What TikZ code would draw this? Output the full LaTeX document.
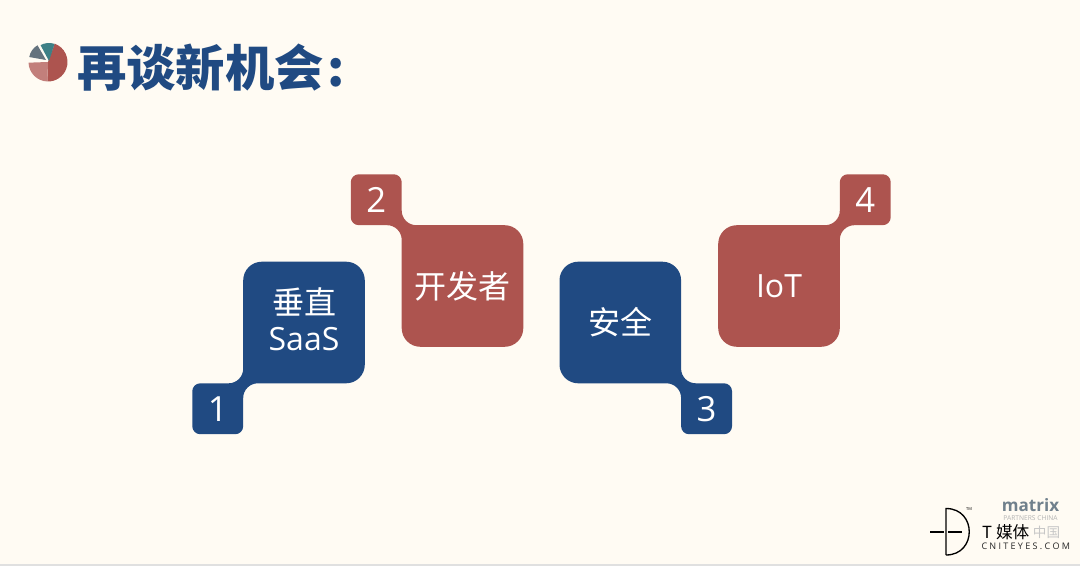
\documentclass[tikz,border=0pt]{standalone}
\usepackage{fontspec}
\setmainfont{Open Sans}
\newfontfamily\cjk{Noto Sans CJK SC}
\usetikzlibrary{positioning, backgrounds}
\definecolor{paper}{RGB}{255,251,243}
\definecolor{navyblue}{RGB}{32,74,130}
\definecolor{softred}{RGB}{173,84,79}
\definecolor{logogray}{RGB}{112,128,140}
\begin{document}
\begin{tikzpicture}[
        x=0.75pt, y=-0.75pt,
        mainbox/.style={rectangle, inner sep=0pt, outer sep=0pt, minimum size=91.2pt, align=center,
                        text=white, font=\fontsize{24}{27}\selectfont\cjk},
        numbox/.style={rectangle, inner sep=0pt, outer sep=0pt, minimum size=38.2pt, text=white,
                       font=\fontsize{26}{27}\selectfont},
        bluefill/.style={fill=navyblue},
        redfill/.style={fill=softred},
        logotext/.style={inner sep=0pt, outer sep=0pt}
    ]
        \useasboundingbox (0,0) rectangle (1080,566);
        \node [mainbox] (saas) at (304,322.5) {};
        \node [mainbox, minimum size=0pt] (saastext) at ([yshift=2.5pt]saas.center) {垂直\\{\fontspec{Open Sans}SaaS}};
        \node [mainbox] (dev) at (462.5,286) {开发者};
        \node [mainbox] (safe) at (620.3,322.5) {安全};
        \node [mainbox, font=\fontsize{24}{27}\selectfont] (iot) at (779,286) {IoT};
        \node [numbox, below left=0pt and 0pt of saas.south west] (num1) {1};
        \node [numbox, above left=0pt and 0pt of dev.north west] (num2) {2};
        \node [numbox, below right=0pt and 0pt of safe.south east] (num3) {3};
        \node [numbox, above right=0pt and 0pt of iot.north east] (num4) {4};
        % the slide and the four shapes
        \begin{scope}[on background layer]
            \fill [paper] (0,0) rectangle (1080,566);
            \fill [black!12] (0,564) rectangle (1080,566);
            \fill [bluefill, rounded corners=14pt] (saas.north) -- (saas.north east) -- (saas.south east)
                [rounded corners=11pt] -- (saas.south west)
                [rounded corners=6pt] -- (num1.south east) -- (num1.south west) -- (num1.north west)
                [rounded corners=11pt] -- (saas.south west)
                [rounded corners=14pt] -- (saas.north west) -- cycle;
            \fill [redfill, rounded corners=14pt] (dev.east) -- (dev.south east) -- (dev.south west)
                [rounded corners=11pt] -- (dev.north west)
                [rounded corners=6pt] -- (num2.south west) -- (num2.north west) -- (num2.north east)
                [rounded corners=11pt] -- (dev.north west)
                [rounded corners=14pt] -- (dev.north east) -- cycle;
            \fill [bluefill, rounded corners=14pt] (safe.west) -- (safe.north west) -- (safe.north east)
                [rounded corners=11pt] -- (safe.south east)
                [rounded corners=6pt] -- (num3.north east) -- (num3.south east) -- (num3.south west)
                [rounded corners=11pt] -- (safe.south east)
                [rounded corners=14pt] -- (safe.south west) -- cycle;
            \fill [redfill, rounded corners=14pt] (iot.south) -- (iot.south west) -- (iot.north west)
                [rounded corners=11pt] -- (iot.north east)
                [rounded corners=6pt] -- (num4.north west) -- (num4.north east) -- (num4.south east)
                [rounded corners=11pt] -- (iot.north east)
                [rounded corners=14pt] -- (iot.south east) -- cycle;
        \end{scope}
        % title and pie
        \node [logotext, anchor=west, text=navyblue, font=\fontsize{37}{38}\selectfont\cjk\bfseries] (title) at (77,68) {再谈新机会\hspace{3pt}:};
        \fill [softred] (48,62) -- ++(-70:19.5) arc (-70:92:19.5) -- cycle;
        \fill [softred!75!white] (48,62) -- ++(92:19.5) arc (92:178:19.5) -- cycle;
        \fill [logogray!90!black] (46,60) -- ++(190:17) arc (190:240:17) -- cycle;
        \fill [logogray!55!teal] (49,61) -- ++(-118:18) arc (-118:-72:18) -- cycle;
        % logos
        \node [logotext, text=logogray, font=\fontsize{12.8}{13}\selectfont\bfseries] (matrix) at (1030.5,505) {matrix};
        \node [logotext, text=black!30, font=\fontsize{5}{5}\selectfont] (partners) at (1030.5,518) {PARTNERS CHINA};
        \node [logotext, text=black!22, font=\fontsize{10.2}{11}\selectfont\cjk] (china) at (1046.5,532.5) {中国};
        \node [logotext, anchor=west, font=\fontsize{12.5}{13}\selectfont\cjk] (tmedia) at (982,532) {T\hspace{3pt}媒体};
        \node [logotext, anchor=west, font=\fontsize{6.8}{8}\selectfont, text=black!85] (site) at (981.5,546) {C\hspace{1.7pt}N\hspace{1.7pt}I\hspace{1.7pt}T\hspace{1.7pt}E\hspace{1.7pt}Y\hspace{1.7pt}E\hspace{1.7pt}S\hspace{1.7pt}.\hspace{1.7pt}C\hspace{1.7pt}O\hspace{1.7pt}M};
        \node [logotext, font=\fontsize{3}{3}\selectfont] (tm) at (969,509.5) {TM};
        \coordinate (dtop) at (946,508.5);
        \coordinate (dbot) at (946,555);
        \draw [line width=1pt] (dbot) -- (dtop) .. controls (977,508.5) and (977,555) .. (dbot);
        \draw [line width=1pt] (930,532) -- (944,532) (948,532) -- (962,532);
    \end{tikzpicture}
\end{document}
